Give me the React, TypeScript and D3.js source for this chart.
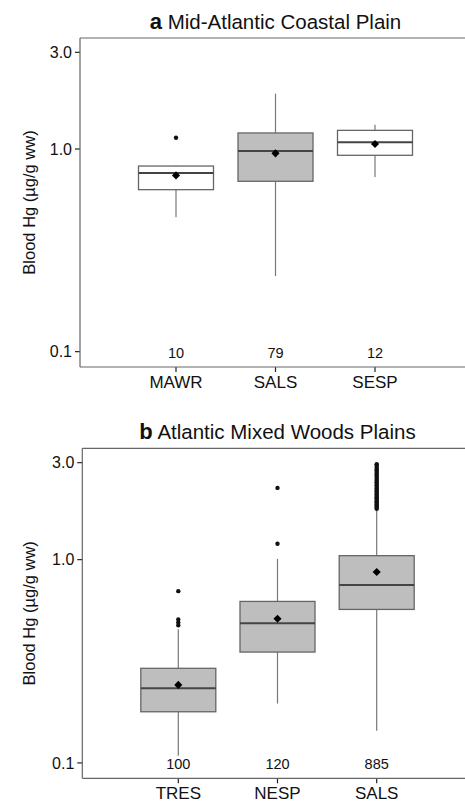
import React from "react"
import * as d3 from "d3"

const width = 465;
const height = 803;

// panel a
const catsA = ["MAWR", "SALS", "SESP"];
const nA = [10, 79, 12];
const lowA = [0.46, 0.236, 0.727];
const q1A = [0.63, 0.693, 0.931];
const medA = [0.761, 0.977, 1.079];
const q3A = [0.824, 1.2, 1.236];
const highA = [0.83, 1.875, 1.318];
const meanA = [0.741, 0.952, 1.059];
const outA = [[1.137], [], []];
const fillA = ["#ffffff", "#bebebe", "#ffffff"];

// panel b
const catsB = ["TRES", "NESP", "SALS"];
const nB = [100, 120, 885];
const lowB = [0.1086, 0.196, 0.144];
const q1B = [0.1785, 0.351, 0.569];
const medB = [0.233, 0.486, 0.751];
const q3B = [0.292, 0.623, 1.046];
const highB = [0.454, 1.008, 1.758];
const meanB = [0.242, 0.512, 0.87];
const outB = [
  [0.7, 0.508, 0.49, 0.475],
  [1.198, 2.254],
  [1.78, 1.8, 1.83, 1.86, 1.88, 1.91, 1.94, 1.97, 2.0, 2.03, 2.06, 2.1, 2.13, 2.17, 2.2,
    2.24, 2.28, 2.32, 2.36, 2.4, 2.45, 2.5, 2.55, 2.6, 2.65, 2.7, 2.75, 2.8, 2.86, 2.92, 2.95],
];
const fillB = ["#bebebe", "#bebebe", "#bebebe"];

const yTicks = [0.1, 1.0, 3.0];
const font = "Liberation Sans, Arial, sans-serif";
const boxW = 75;

const Panel = ({ top, bottom, left, x0, x1, letter, title, cats, n, low, q1, med, q3, high, mean, out, fills }) => {
  const y = d3.scaleLog().domain([0.084, 3.53]).range([bottom, top]);
  const x = d3.scalePoint().domain(cats).range([x0, x1]);
  const diamond = d3.symbol().type(d3.symbolDiamond2).size(42)();
  return (
    <g fontFamily={font}>
      <text x={(x0 + x1) / 2} y={top - 9} textAnchor="middle" fontSize={20.5} fill="#111">
        <tspan fontWeight="bold" fontSize={22}>{letter}</tspan> {title}
      </text>
      <text transform={`translate(35,${(top + bottom) / 2}) rotate(-90)`} textAnchor="middle" fontSize={16.5} fill="#111">
        Blood Hg (µg/g ww)
      </text>
      {yTicks.map(t => (
        <g key={t} transform={`translate(${left},${y(t)})`}>
          <line x1={-5} x2={0} stroke="#222" strokeWidth={1.2} />
          <text x={-8} dy="0.36em" textAnchor="end" fontSize={16} fill="#111">{t.toFixed(1)}</text>
        </g>
      ))}
      {cats.map((c, i) => {
        const cx = x(c);
        return (
          <g key={c}>
            <line x1={cx} x2={cx} y1={y(q3[i])} y2={y(high[i])} stroke="#777" strokeWidth={1.2} />
            <line x1={cx} x2={cx} y1={y(q1[i])} y2={y(low[i])} stroke="#777" strokeWidth={1.2} />
            <rect x={cx - boxW / 2} y={y(q3[i])} width={boxW} height={y(q1[i]) - y(q3[i])}
              fill={fills[i]} stroke="#666" strokeWidth={1.3} />
            <line x1={cx - boxW / 2} x2={cx + boxW / 2} y1={y(med[i])} y2={y(med[i])} stroke="#444" strokeWidth={2} />
            {out[i].map((v, j) => <circle key={j} cx={cx} cy={y(v)} r={2.2} fill="#111" />)}
            <path d={diamond} transform={`translate(${cx},${y(mean[i])})`} fill="#000" />
            <text x={cx} y={bottom - 9} textAnchor="middle" fontSize={14.5} fill="#111">{n[i]}</text>
            <line x1={cx} x2={cx} y1={bottom} y2={bottom + 5} stroke="#222" strokeWidth={1.2} />
            <text x={cx} y={bottom + 21} textAnchor="middle" fontSize={17} fill="#111">{c}</text>
          </g>
        );
      })}
      <line x1={left} x2={width} y1={top} y2={top} stroke="#666" strokeWidth={1.2} />
      <line x1={left} x2={left} y1={top} y2={bottom} stroke="#666" strokeWidth={1.2} />
      <line x1={left} x2={width} y1={bottom} y2={bottom} stroke="#666" strokeWidth={1.2} />
    </g>
  );
};

const App = () => (
  <svg width={width} height={height} style={{ position: "absolute", left: 0, top: 0, background: "#fff" }}>
    <Panel top={38} bottom={367} left={80} x0={176} x1={375} letter="a" title="Mid-Atlantic Coastal Plain"
      cats={catsA} n={nA} low={lowA} q1={q1A} med={medA} q3={q3A} high={highA} mean={meanA} out={outA} fills={fillA} />
    <Panel top={448.3} bottom={778.3} left={82.3} x0={178.3} x1={376.7} letter="b" title="Atlantic Mixed Woods Plains"
      cats={catsB} n={nB} low={lowB} q1={q1B} med={medB} q3={q3B} high={highB} mean={meanB} out={outB} fills={fillB} />
  </svg>
);

export default App
